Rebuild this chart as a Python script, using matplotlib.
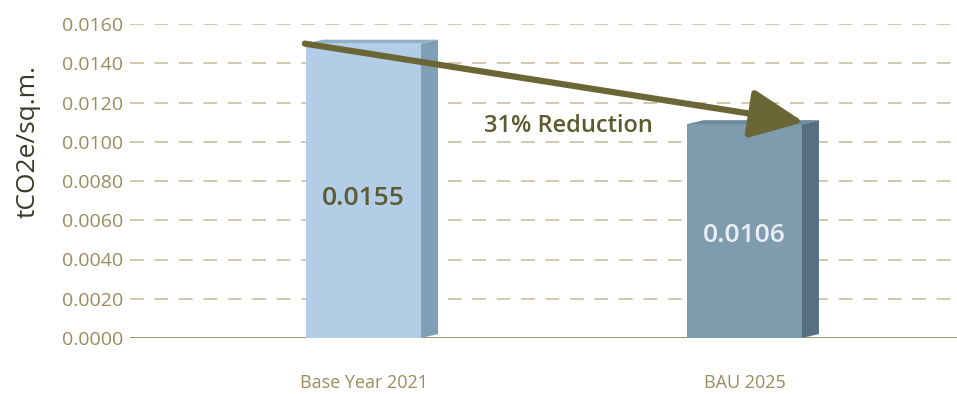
import numpy as np
import matplotlib.pyplot as plt
from matplotlib.patches import Polygon

plt.rcParams['font.family'] = ['Open Sans', 'DejaVu Sans']

categories = ['Base Year 2021', 'BAU 2025']
heights = [0.0150, 0.0109]          # bar heights as drawn
value_labels = ['0.0155', '0.0106']
reduction_text = '31% Reduction'
yticks = np.arange(0, 0.0161, 0.002)

front_cols = ['#b3cde6', '#7f9bae']
side_cols = ['#7f9fb5', '#566f81']
top_cols = ['#90afca', '#6d899d']
label_cols = ['#5c5a2e', '#e9eff4']
label_y = [0.0071, 0.0052]

olive = '#6b6636'
tick_col = '#9a8c5e'

fig = plt.figure(figsize=(9.57, 3.94), dpi=100)
ax = fig.add_axes([130 / 957, 56 / 394, 827 / 957, 314 / 394])

w = 0.302
dx = 0.0446
dy = 0.0002
x = np.arange(len(categories))

for g in yticks[1:]:
    ax.axhline(g, color='#c4bb98', lw=1.1, ls=(0, (9, 7)), zorder=0)
ax.axhline(0, color=tick_col, lw=1.3, zorder=1)

for i, h in enumerate(heights):
    l, r = x[i] - w / 2, x[i] + w / 2
    ax.add_patch(Polygon([(l, 0), (r, 0), (r, h), (l, h)], closed=True,
                         fc=front_cols[i], ec='none', zorder=2))
    ax.add_patch(Polygon([(r, 0), (r + dx, dy), (r + dx, h + dy), (r, h)], closed=True,
                         fc=side_cols[i], ec='none', zorder=2))
    ax.add_patch(Polygon([(l, h), (l + dx, h + dy), (r + dx, h + dy), (r, h)], closed=True,
                         fc=top_cols[i], ec='none', zorder=2))
    ax.text(x[i], label_y[i], value_labels[i], ha='center', va='center',
            fontsize=19, fontweight='semibold', color=label_cols[i], zorder=4)

# reduction arrow
ax.annotate('', xy=(x[1] + w / 2 + 0.005, heights[1] + 0.0001),
            xytext=(x[0] - w / 2 - 0.003, heights[0]),
            arrowprops=dict(arrowstyle='-|>,head_length=3.3,head_width=1.5',
                            color=olive, lw=4.5, shrinkA=0, shrinkB=0),
            zorder=5)
ax.text(0.537, 0.0108, reduction_text, ha='center', va='center',
        fontsize=17, fontweight='semibold', color='#5c5a2e', zorder=4)

ax.set_xlim(-0.613, 1.558)
ax.set_ylim(0, 0.016)
ax.set_yticks(yticks)
ax.set_yticklabels([f'{v:.4f}' for v in yticks])
ax.set_xticks(x)
ax.set_xticklabels(categories)
ax.tick_params(axis='y', length=0, pad=5, labelsize=14, labelcolor=tick_col)
ax.tick_params(axis='x', length=0, pad=26, labelsize=13, labelcolor=tick_col)
for s in ax.spines.values():
    s.set_visible(False)

ax.set_ylabel('tCO2e/sq.m.', fontsize=19, color='#3a3a28')
ax.yaxis.set_label_coords(-0.108, 0.627)

fig.savefig('out.png', dpi=100)
